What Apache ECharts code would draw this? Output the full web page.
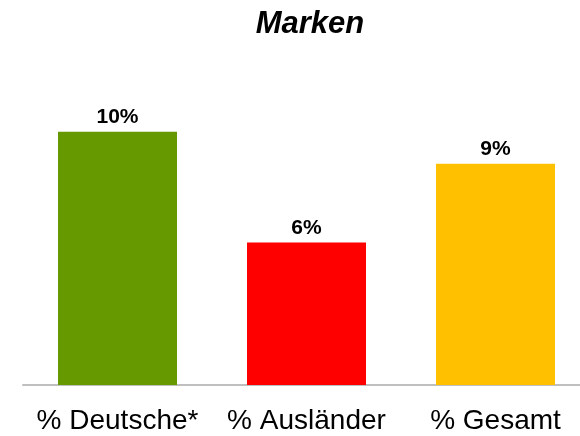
<!DOCTYPE html>
<html>
<head>
<meta charset="utf-8">
<script src="https://cdn.jsdelivr.net/npm/echarts@6/dist/echarts.min.js"></script>
<style>
  html, body { margin: 0; padding: 0; background: #fff; }
  #chart { width: 580px; height: 436px; }
</style>
</head>
<body>
<div id="chart"></div>
<script>
const categories = ['% Deutsche*', '% Ausländer', '% Gesamt']
const values = [10.3, 5.8, 9.0]
const colors = ['#669900', '#ff0000', '#ffc000']

const myChart = echarts.init(document.getElementById('chart'))
const option = {
  animation: false,
  title: {
    text: 'Marken',
    left: 305,
    textAlign: 'center',
    top: 4,
    textStyle: {
      fontFamily: 'Liberation Sans',
      fontSize: 31,
      fontWeight: 'bold',
      fontStyle: 'italic',
      color: '#000',
    },
  },
  grid: { left: 23, top: 90, width: 567, bottom: 51, outerBoundsMode: 'none' },
  xAxis: {
    type: 'category',
    data: categories,
    axisLine: { lineStyle: { color: '#bfbfbf', width: 2 } },
    axisTick: { show: false },
    axisLabel: {
      fontFamily: 'Liberation Sans',
      fontSize: 28,
      color: '#000',
      margin: 22,
      interval: 0,
    },
  },
  yAxis: {
    type: 'value',
    min: 0,
    max: 12,
    show: false,
    splitLine: { show: false },
  },
  series: [
    {
      type: 'bar',
      barWidth: 119,
      data: values.map((v, i) => ({ value: v, itemStyle: { color: colors[i] } })),
      label: {
        show: true,
        position: 'top',
        distance: 4,
        formatter: p => Math.round(p.value) + '%',
        fontFamily: 'Liberation Sans',
        fontSize: 21,
        fontWeight: 'bold',
        color: '#000',
      },
    },
  ],
}
myChart.setOption(option, true)
</script>
</body>
</html>
